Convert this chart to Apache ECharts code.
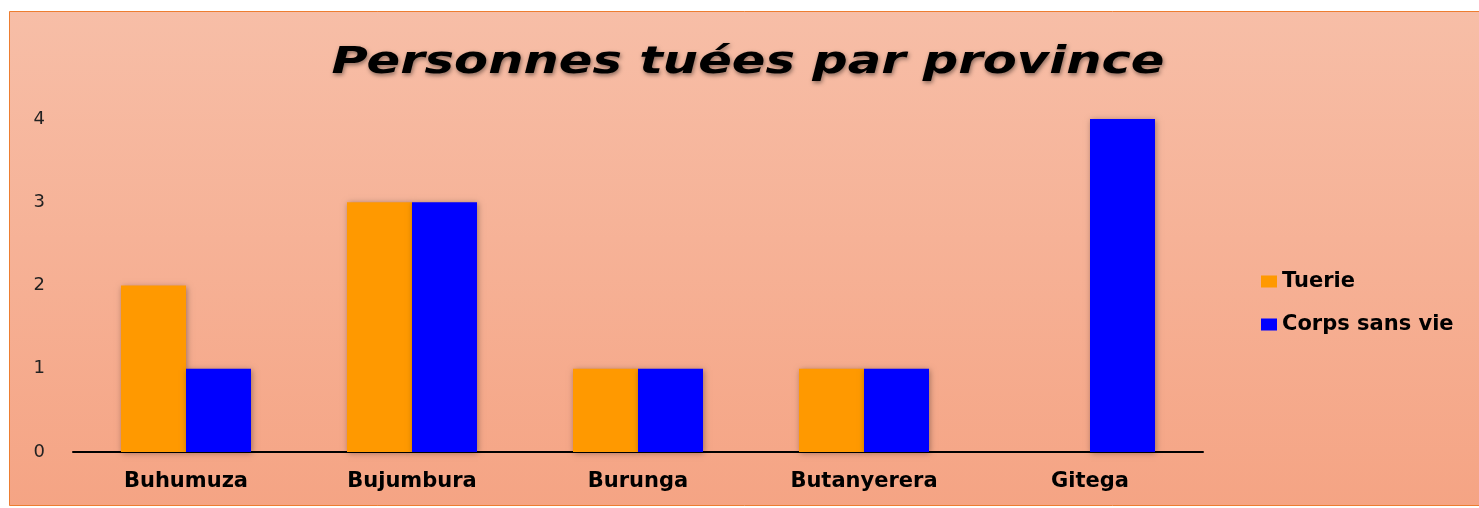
<!DOCTYPE html>
<html><head><meta charset="utf-8">
<script src="https://cdn.jsdelivr.net/npm/echarts@6/dist/echarts.min.js"></script>
<style>html,body{margin:0;padding:0;background:#fff}#c{width:1479px;height:508px}</style>
</head><body><div id="c"></div>
<script>
const titleText = 'Personnes tuées par province';
const categories = ['Buhumuza', 'Bujumbura', 'Burunga', 'Butanyerera', 'Gitega'];
const tuerie = [2, 3, 1, 1, null];
const corps = [1, 3, 1, 1, 4];
const yTicks = [0, 1, 2, 3, 4];

const chart = echarts.init(document.getElementById('c'), null, {renderer: 'canvas'});
const shadow = {shadowBlur: 6, shadowColor: 'rgba(0,0,0,0.35)', shadowOffsetX: 1, shadowOffsetY: 1};
chart.setOption({
  animation: false,
  graphic: [{
    type: 'rect', z: -10, silent: true,
    shape: {x: 9.5, y: 11.5, width: 1480, height: 494},
    style: {
      fill: {type: 'linear', x: 0, y: 0, x2: 0, y2: 1, colorStops: [
        {offset: 0, color: '#F7BEA7'}, {offset: 1, color: '#F5A484'}]},
      stroke: '#ED7D31', lineWidth: 1
    }
  }, {
    type: 'text', x: 748, y: 63, scaleX: 1.34, silent: true, z: 10,
    style: {
      text: titleText, align: 'center', verticalAlign: 'middle',
      font: 'italic bold 37px "DejaVu Sans"', fill: '#000',
      textShadowColor: 'rgba(0,0,0,0.45)', textShadowBlur: 4, textShadowOffsetX: 1, textShadowOffsetY: 2
    }
  }],
  legend: {
    orient: 'vertical', left: 1256, top: 266, itemGap: 22, itemWidth: 16, itemHeight: 12,
    icon: 'rect',
    textStyle: {fontFamily: 'DejaVu Sans', fontWeight: 'bold', fontSize: 21, color: '#000'},
    data: ['Tuerie', 'Corps sans vie']
  },
  grid: {left: 73, right: 276, top: 119, bottom: 56, containLabel: false},
  xAxis: {
    type: 'category', data: categories,
    axisLine: {lineStyle: {color: '#000', width: 2}},
    axisTick: {show: false},
    axisLabel: {fontFamily: 'DejaVu Sans', fontWeight: 'bold', fontSize: 21, color: '#000', margin: 19}
  },
  yAxis: {
    type: 'value', min: 0, max: 4, interval: 1,
    axisLine: {show: false}, axisTick: {show: false}, splitLine: {show: false},
    axisLabel: {fontFamily: 'DejaVu Sans', fontSize: 18, color: '#222', margin: 28,
      formatter: v => yTicks.includes(v) ? String(v) : ''}
  },
  series: [
    {name: 'Tuerie', type: 'bar', data: tuerie, barWidth: 65, barGap: '0%',
      itemStyle: Object.assign({color: '#FF9900'}, shadow)},
    {name: 'Corps sans vie', type: 'bar', data: corps, barWidth: 65,
      itemStyle: Object.assign({color: '#0000FF'}, shadow)}
  ]
});
</script></body></html>
